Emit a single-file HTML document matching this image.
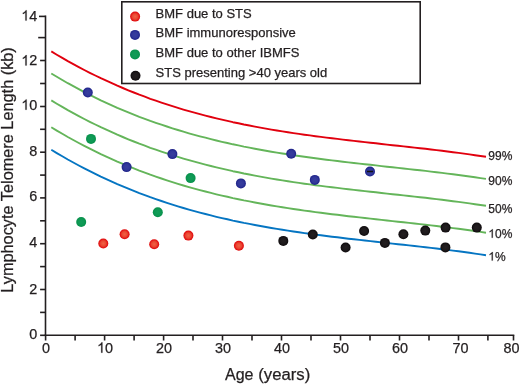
<!DOCTYPE html>
<html><head><meta charset="utf-8"><style>
html,body{margin:0;padding:0;background:#fff;}
svg{display:block;will-change:transform;}
text{font-family:"Liberation Sans",sans-serif;fill:#231f20;stroke:#231f20;stroke-width:0.25px;}
</style></head><body>
<svg width="520" height="384" viewBox="0 0 520 384">
<defs>
<radialGradient id="gr" cx="50%" cy="50%" r="50%"><stop offset="0" stop-color="#ef6346"/><stop offset="0.55" stop-color="#ea4530"/><stop offset="0.85" stop-color="#e31616"/><stop offset="1" stop-color="#df0a0a"/></radialGradient>
<radialGradient id="gb" cx="50%" cy="50%" r="50%"><stop offset="0" stop-color="#383e9d"/><stop offset="0.6" stop-color="#31379a"/><stop offset="0.85" stop-color="#24298e"/><stop offset="1" stop-color="#1f2389"/></radialGradient>
<radialGradient id="gg" cx="50%" cy="50%" r="50%"><stop offset="0" stop-color="#129c58"/><stop offset="0.6" stop-color="#0e9954"/><stop offset="1" stop-color="#06904a"/></radialGradient>
<radialGradient id="gk" cx="50%" cy="50%" r="50%"><stop offset="0" stop-color="#241f21"/><stop offset="0.6" stop-color="#1d191b"/><stop offset="1" stop-color="#0e0a0c"/></radialGradient>
</defs>
<g fill="none" stroke-width="1.9" stroke-linejoin="round" stroke-linecap="butt">
<path d="M51.3,51.4 L56.8,54.7 L62.3,57.9 L67.8,61.1 L73.3,64.1 L78.8,67.1 L84.3,70.0 L89.8,72.8 L95.3,75.5 L100.8,78.2 L106.3,80.7 L111.8,83.2 L117.3,85.7 L122.8,88.0 L128.3,90.3 L133.8,92.5 L139.3,94.7 L144.8,96.7 L150.3,98.8 L155.8,100.7 L161.4,102.6 L166.9,104.4 L172.4,106.2 L177.9,107.9 L183.4,109.6 L188.9,111.2 L194.4,112.7 L199.9,114.2 L205.4,115.6 L210.9,117.0 L216.4,118.4 L221.9,119.7 L227.4,120.9 L232.9,122.2 L238.4,123.3 L243.9,124.5 L249.4,125.5 L254.9,126.6 L260.4,127.6 L265.9,128.6 L271.4,129.6 L276.9,130.5 L282.4,131.4 L287.9,132.2 L293.4,133.1 L298.9,133.9 L304.4,134.7 L309.9,135.4 L315.4,136.2 L320.9,136.9 L326.4,137.6 L331.9,138.3 L337.4,138.9 L342.9,139.6 L348.4,140.3 L353.9,140.9 L359.4,141.5 L364.9,142.1 L370.4,142.7 L375.9,143.3 L381.5,144.0 L387.0,144.6 L392.5,145.2 L398.0,145.8 L403.5,146.4 L409.0,147.0 L414.5,147.6 L420.0,148.2 L425.5,148.8 L431.0,149.5 L436.5,150.1 L442.0,150.8 L447.5,151.5 L453.0,152.2 L458.5,152.9 L464.0,153.6 L469.5,154.4 L475.0,155.2 L480.5,156.0 L486.0,156.8" stroke="#e1000e" />
<path d="M51.3,73.5 L56.8,76.8 L62.3,80.0 L67.8,83.2 L73.3,86.2 L78.8,89.2 L84.3,92.1 L89.8,94.9 L95.3,97.6 L100.8,100.3 L106.3,102.8 L111.8,105.3 L117.3,107.8 L122.8,110.1 L128.3,112.4 L133.8,114.6 L139.3,116.8 L144.8,118.8 L150.3,120.9 L155.8,122.8 L161.4,124.7 L166.9,126.5 L172.4,128.3 L177.9,130.0 L183.4,131.7 L188.9,133.3 L194.4,134.8 L199.9,136.3 L205.4,137.7 L210.9,139.1 L216.4,140.5 L221.9,141.8 L227.4,143.0 L232.9,144.3 L238.4,145.4 L243.9,146.6 L249.4,147.6 L254.9,148.7 L260.4,149.7 L265.9,150.7 L271.4,151.7 L276.9,152.6 L282.4,153.5 L287.9,154.3 L293.4,155.2 L298.9,156.0 L304.4,156.8 L309.9,157.5 L315.4,158.3 L320.9,159.0 L326.4,159.7 L331.9,160.4 L337.4,161.0 L342.9,161.7 L348.4,162.4 L353.9,163.0 L359.4,163.6 L364.9,164.2 L370.4,164.8 L375.9,165.4 L381.5,166.1 L387.0,166.7 L392.5,167.3 L398.0,167.9 L403.5,168.5 L409.0,169.1 L414.5,169.7 L420.0,170.3 L425.5,170.9 L431.0,171.6 L436.5,172.2 L442.0,172.9 L447.5,173.6 L453.0,174.3 L458.5,175.0 L464.0,175.7 L469.5,176.5 L475.0,177.3 L480.5,178.1 L486.0,178.9" stroke="#64b55a" />
<path d="M51.3,100.4 L56.8,103.7 L62.3,106.9 L67.8,110.1 L73.3,113.1 L78.8,116.1 L84.3,119.0 L89.8,121.8 L95.3,124.5 L100.8,127.2 L106.3,129.7 L111.8,132.2 L117.3,134.7 L122.8,137.0 L128.3,139.3 L133.8,141.5 L139.3,143.7 L144.8,145.7 L150.3,147.8 L155.8,149.7 L161.4,151.6 L166.9,153.4 L172.4,155.2 L177.9,156.9 L183.4,158.6 L188.9,160.2 L194.4,161.7 L199.9,163.2 L205.4,164.6 L210.9,166.0 L216.4,167.4 L221.9,168.7 L227.4,169.9 L232.9,171.2 L238.4,172.3 L243.9,173.5 L249.4,174.5 L254.9,175.6 L260.4,176.6 L265.9,177.6 L271.4,178.6 L276.9,179.5 L282.4,180.4 L287.9,181.2 L293.4,182.1 L298.9,182.9 L304.4,183.7 L309.9,184.4 L315.4,185.2 L320.9,185.9 L326.4,186.6 L331.9,187.3 L337.4,187.9 L342.9,188.6 L348.4,189.3 L353.9,189.9 L359.4,190.5 L364.9,191.1 L370.4,191.7 L375.9,192.3 L381.5,193.0 L387.0,193.6 L392.5,194.2 L398.0,194.8 L403.5,195.4 L409.0,196.0 L414.5,196.6 L420.0,197.2 L425.5,197.8 L431.0,198.5 L436.5,199.1 L442.0,199.8 L447.5,200.5 L453.0,201.2 L458.5,201.9 L464.0,202.6 L469.5,203.4 L475.0,204.2 L480.5,205.0 L486.0,205.8" stroke="#64b55a" />
<path d="M51.3,127.3 L56.8,130.6 L62.3,133.8 L67.8,137.0 L73.3,140.0 L78.8,143.0 L84.3,145.9 L89.8,148.7 L95.3,151.4 L100.8,154.1 L106.3,156.6 L111.8,159.1 L117.3,161.6 L122.8,163.9 L128.3,166.2 L133.8,168.4 L139.3,170.6 L144.8,172.6 L150.3,174.7 L155.8,176.6 L161.4,178.5 L166.9,180.3 L172.4,182.1 L177.9,183.8 L183.4,185.5 L188.9,187.1 L194.4,188.6 L199.9,190.1 L205.4,191.5 L210.9,192.9 L216.4,194.3 L221.9,195.6 L227.4,196.8 L232.9,198.1 L238.4,199.2 L243.9,200.4 L249.4,201.4 L254.9,202.5 L260.4,203.5 L265.9,204.5 L271.4,205.5 L276.9,206.4 L282.4,207.3 L287.9,208.1 L293.4,209.0 L298.9,209.8 L304.4,210.6 L309.9,211.3 L315.4,212.1 L320.9,212.8 L326.4,213.5 L331.9,214.2 L337.4,214.8 L342.9,215.5 L348.4,216.2 L353.9,216.8 L359.4,217.4 L364.9,218.0 L370.4,218.6 L375.9,219.2 L381.5,219.9 L387.0,220.5 L392.5,221.1 L398.0,221.7 L403.5,222.3 L409.0,222.9 L414.5,223.5 L420.0,224.1 L425.5,224.7 L431.0,225.4 L436.5,226.0 L442.0,226.7 L447.5,227.4 L453.0,228.1 L458.5,228.8 L464.0,229.5 L469.5,230.3 L475.0,231.1 L480.5,231.9 L486.0,232.7" stroke="#64b55a" />
<path d="M51.3,149.8 L56.8,153.1 L62.3,156.3 L67.8,159.5 L73.3,162.5 L78.8,165.5 L84.3,168.4 L89.8,171.2 L95.3,173.9 L100.8,176.6 L106.3,179.1 L111.8,181.6 L117.3,184.1 L122.8,186.4 L128.3,188.7 L133.8,190.9 L139.3,193.1 L144.8,195.1 L150.3,197.2 L155.8,199.1 L161.4,201.0 L166.9,202.8 L172.4,204.6 L177.9,206.3 L183.4,208.0 L188.9,209.6 L194.4,211.1 L199.9,212.6 L205.4,214.0 L210.9,215.4 L216.4,216.8 L221.9,218.1 L227.4,219.3 L232.9,220.6 L238.4,221.7 L243.9,222.9 L249.4,223.9 L254.9,225.0 L260.4,226.0 L265.9,227.0 L271.4,228.0 L276.9,228.9 L282.4,229.8 L287.9,230.6 L293.4,231.5 L298.9,232.3 L304.4,233.1 L309.9,233.8 L315.4,234.6 L320.9,235.3 L326.4,236.0 L331.9,236.7 L337.4,237.3 L342.9,238.0 L348.4,238.7 L353.9,239.3 L359.4,239.9 L364.9,240.5 L370.4,241.1 L375.9,241.7 L381.5,242.4 L387.0,243.0 L392.5,243.6 L398.0,244.2 L403.5,244.8 L409.0,245.4 L414.5,246.0 L420.0,246.6 L425.5,247.2 L431.0,247.9 L436.5,248.5 L442.0,249.2 L447.5,249.9 L453.0,250.6 L458.5,251.3 L464.0,252.0 L469.5,252.8 L475.0,253.6 L480.5,254.4 L486.0,255.2" stroke="#0575c2" />
</g>
<g stroke="#231f20" stroke-width="1.6" fill="none">
<line x1="45.5" y1="15.6" x2="45.5" y2="336.1"/>
<line x1="44.7" y1="335.3" x2="514.3" y2="335.3"/>
<line x1="40.1" y1="335.3" x2="45.5" y2="335.3"/>
<line x1="40.1" y1="312.4" x2="45.5" y2="312.4"/>
<line x1="40.1" y1="289.5" x2="45.5" y2="289.5"/>
<line x1="40.1" y1="266.6" x2="45.5" y2="266.6"/>
<line x1="40.1" y1="243.7" x2="45.5" y2="243.7"/>
<line x1="40.1" y1="220.8" x2="45.5" y2="220.8"/>
<line x1="40.1" y1="197.9" x2="45.5" y2="197.9"/>
<line x1="40.1" y1="175.1" x2="45.5" y2="175.1"/>
<line x1="40.1" y1="152.2" x2="45.5" y2="152.2"/>
<line x1="40.1" y1="129.3" x2="45.5" y2="129.3"/>
<line x1="40.1" y1="106.5" x2="45.5" y2="106.5"/>
<line x1="40.1" y1="83.5" x2="45.5" y2="83.5"/>
<line x1="40.1" y1="60.5" x2="45.5" y2="60.5"/>
<line x1="38.2" y1="37.6" x2="45.5" y2="37.6"/>
<line x1="39.0" y1="16.4" x2="45.5" y2="16.4"/>
<line x1="45.6" y1="335.3" x2="45.6" y2="340.5"/>
<line x1="75.1" y1="335.3" x2="75.1" y2="340.5"/>
<line x1="104.6" y1="335.3" x2="104.6" y2="340.5"/>
<line x1="134.1" y1="335.3" x2="134.1" y2="340.5"/>
<line x1="163.6" y1="335.3" x2="163.6" y2="340.5"/>
<line x1="193.0" y1="335.3" x2="193.0" y2="340.5"/>
<line x1="222.5" y1="335.3" x2="222.5" y2="340.5"/>
<line x1="252.0" y1="335.3" x2="252.0" y2="340.5"/>
<line x1="281.5" y1="335.3" x2="281.5" y2="340.5"/>
<line x1="311.0" y1="335.3" x2="311.0" y2="340.5"/>
<line x1="340.5" y1="335.3" x2="340.5" y2="340.5"/>
<line x1="370.0" y1="335.3" x2="370.0" y2="340.5"/>
<line x1="399.5" y1="335.3" x2="399.5" y2="340.5"/>
<line x1="429.0" y1="335.3" x2="429.0" y2="340.5"/>
<line x1="458.5" y1="335.3" x2="458.5" y2="340.5"/>
<line x1="487.9" y1="335.3" x2="487.9" y2="340.5"/>
<line x1="513.5" y1="335.3" x2="513.5" y2="340.5"/>
</g>
<g>
<text x="29.29" y="338.65" font-size="14.4">0</text>
<text x="29.29" y="293.50" font-size="14.4">2</text>
<text x="29.29" y="247.40" font-size="14.4">4</text>
<text x="29.29" y="201.10" font-size="14.4">6</text>
<text x="29.29" y="155.50" font-size="14.4">8</text>
<path d="M763 0H583V1147Q518 1085 412 1023Q306 961 221 930V1104Q372 1175 485 1276Q598 1377 645 1472H763Z" transform="translate(21.28,109.75) scale(0.007031,-0.007031)" fill="#231f20" stroke="#231f20" stroke-width="25.6"/><text x="29.29" y="109.75" font-size="14.4">0</text>
<path d="M763 0H583V1147Q518 1085 412 1023Q306 961 221 930V1104Q372 1175 485 1276Q598 1377 645 1472H763Z" transform="translate(21.28,65.45) scale(0.007031,-0.007031)" fill="#231f20" stroke="#231f20" stroke-width="25.6"/><text x="29.29" y="65.45" font-size="14.4">2</text>
<path d="M763 0H583V1147Q518 1085 412 1023Q306 961 221 930V1104Q372 1175 485 1276Q598 1377 645 1472H763Z" transform="translate(21.28,20.60) scale(0.007031,-0.007031)" fill="#231f20" stroke="#231f20" stroke-width="25.6"/><text x="29.29" y="20.60" font-size="14.4">4</text>
<text x="42.10" y="352.70" font-size="14.4">0</text>
<path d="M763 0H583V1147Q518 1085 412 1023Q306 961 221 930V1104Q372 1175 485 1276Q598 1377 645 1472H763Z" transform="translate(97.07,352.70) scale(0.007031,-0.007031)" fill="#231f20" stroke="#231f20" stroke-width="25.6"/><text x="105.08" y="352.70" font-size="14.4">0</text>
<text x="156.05" y="352.70" font-size="14.4">20</text>
<text x="215.03" y="352.70" font-size="14.4">30</text>
<text x="274.01" y="352.70" font-size="14.4">40</text>
<text x="332.99" y="352.70" font-size="14.4">50</text>
<text x="391.97" y="352.70" font-size="14.4">60</text>
<text x="452.45" y="352.70" font-size="14.4">70</text>
<text x="503.49" y="352.70" font-size="14.4">80</text>
</g>
<circle cx="103.3" cy="243.5" r="5.0" fill="url(#gr)"/>
<circle cx="124.6" cy="234.2" r="5.0" fill="url(#gr)"/>
<circle cx="154.2" cy="244.2" r="5.0" fill="url(#gr)"/>
<circle cx="188.4" cy="235.6" r="5.0" fill="url(#gr)"/>
<circle cx="238.9" cy="245.7" r="5.0" fill="url(#gr)"/>
<circle cx="87.8" cy="92.5" r="5.0" fill="url(#gb)"/>
<circle cx="126.6" cy="167.1" r="5.0" fill="url(#gb)"/>
<circle cx="172.4" cy="154.1" r="5.0" fill="url(#gb)"/>
<circle cx="240.9" cy="183.4" r="5.0" fill="url(#gb)"/>
<circle cx="291.2" cy="153.7" r="5.0" fill="url(#gb)"/>
<circle cx="314.8" cy="179.9" r="5.0" fill="url(#gb)"/>
<circle cx="370" cy="171.5" r="5.0" fill="url(#gb)"/>
<circle cx="81.2" cy="222.0" r="5.0" fill="url(#gg)"/>
<circle cx="91.0" cy="138.9" r="5.0" fill="url(#gg)"/>
<circle cx="157.8" cy="212.3" r="5.0" fill="url(#gg)"/>
<circle cx="190.6" cy="178.1" r="5.0" fill="url(#gg)"/>
<circle cx="283.3" cy="240.9" r="5.0" fill="url(#gk)"/>
<circle cx="312.8" cy="234.5" r="5.0" fill="url(#gk)"/>
<circle cx="345.6" cy="247.5" r="5.0" fill="url(#gk)"/>
<circle cx="364.1" cy="231.0" r="5.0" fill="url(#gk)"/>
<circle cx="384.9" cy="242.9" r="5.0" fill="url(#gk)"/>
<circle cx="403.4" cy="234.2" r="5.0" fill="url(#gk)"/>
<circle cx="425.3" cy="230.6" r="5.0" fill="url(#gk)"/>
<circle cx="445.6" cy="227.6" r="5.0" fill="url(#gk)"/>
<circle cx="445.4" cy="247.4" r="5.0" fill="url(#gk)"/>
<circle cx="476.8" cy="227.6" r="5.0" fill="url(#gk)"/>
<line x1="367" y1="171.5" x2="373" y2="171.5" stroke="#111" stroke-width="1.5"/>
<rect x="121.8" y="1.8" width="298.4" height="81.7" fill="#fff" stroke="#231f20" stroke-width="1.6"/>
<circle cx="135.1" cy="16.6" r="5.0" fill="url(#gr)"/>
<circle cx="135.0" cy="34.9" r="5.0" fill="url(#gb)"/>
<circle cx="135.0" cy="54.4" r="5.0" fill="url(#gg)"/>
<circle cx="135.5" cy="75.8" r="5.0" fill="url(#gk)"/>
<g font-size="13">
<text x="155.6" y="17.75">BMF due to STS</text>
<text x="155.6" y="37.1">BMF immunoresponsive</text>
<text x="155.6" y="56.8">BMF due to other IBMFS</text>
<text x="155.6" y="76.6">STS presenting &gt;40 years old</text>
</g>
<g>
<text x="488.30" y="160.40" font-size="12">99%</text>
<text x="488.30" y="184.90" font-size="12">90%</text>
<text x="488.30" y="212.80" font-size="12">50%</text>
<path d="M763 0H583V1147Q518 1085 412 1023Q306 961 221 930V1104Q372 1175 485 1276Q598 1377 645 1472H763Z" transform="translate(488.30,237.80) scale(0.005859,-0.005859)" fill="#231f20" stroke="#231f20" stroke-width="30.7"/><text x="494.97" y="237.80" font-size="12">0%</text>
<path d="M763 0H583V1147Q518 1085 412 1023Q306 961 221 930V1104Q372 1175 485 1276Q598 1377 645 1472H763Z" transform="translate(488.30,260.60) scale(0.005859,-0.005859)" fill="#231f20" stroke="#231f20" stroke-width="30.7"/><text x="494.97" y="260.60" font-size="12">%</text>
</g>
<text x="225.0" y="380.3" font-size="16">Age</text><text x="258.3" y="380.3" font-size="16" textLength="52.0" lengthAdjust="spacingAndGlyphs">(years)</text>
<text transform="translate(13,292.7) rotate(-90)" font-size="16" textLength="245.5" lengthAdjust="spacingAndGlyphs">Lymphocyte Telomere Length (kb)</text>
</svg>
</body></html>
